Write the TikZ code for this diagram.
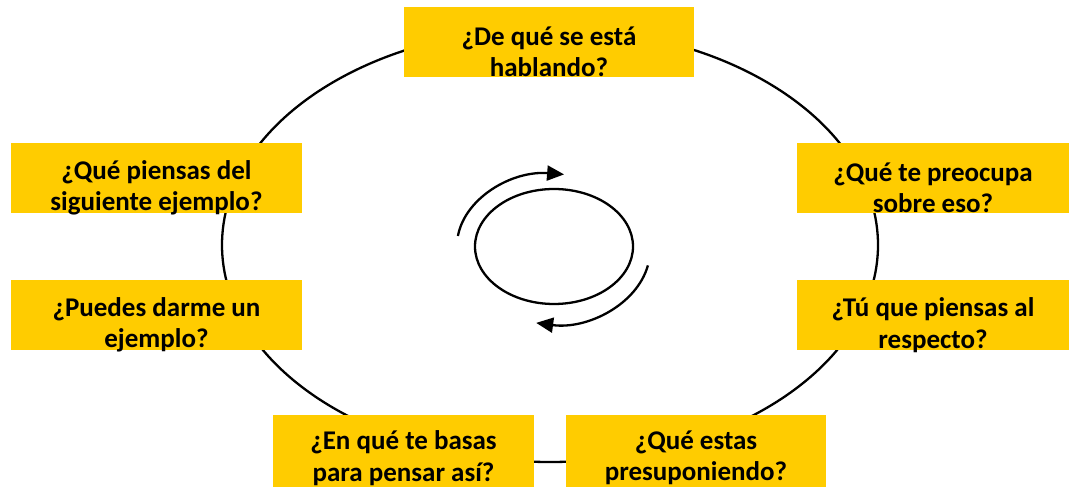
\documentclass[tikz,border=0pt]{standalone}
\usepackage{fontspec}
\setmainfont{Carlito}
\usetikzlibrary{arrows.meta,shapes.geometric}
\definecolor{boxyellow}{RGB}{255,204,0}
\tikzset{
  qbox/.style={rectangle, fill=boxyellow, draw=none, inner sep=0pt, minimum height=70pt},
  qtext/.style={align=center, inner sep=0pt, font=\bfseries\fontsize{27}{31.5}\selectfont, text=black},
  ring/.style={ellipse, draw=black, line width=2.3pt, inner sep=0pt},
  turn/.style={draw=black, line width=2.3pt, -{Triangle[length=17pt,width=15pt]}}
}
\begin{document}
\begin{tikzpicture}[x=1pt,y=1pt]
\useasboundingbox (0,0) rectangle (1072,488);
% big ellipse and small ellipse
\node[ring, minimum width=656pt, minimum height=434pt] (big) at (550,243) {};
\node[ring, minimum width=158pt, minimum height=115pt] (small) at (554,241.5) {};
% rotating arrows
\draw[turn] (457.9,252) arc[start angle=172, end angle=84, x radius=97, y radius=72];
\draw[turn] (647.9,222.6) arc[start angle=-12, end angle=-100, x radius=97, y radius=74];
% boxes
\node[qbox, minimum width=290pt] (top) at (549,446) {};
\node[qbox, minimum width=291pt] (lt) at (156.5,310) {};
\node[qbox, minimum width=291pt] (lb) at (156.5,173) {};
\node[qbox, minimum width=272pt] (rt) at (933,310) {};
\node[qbox, minimum width=272pt] (rb) at (933,173) {};
\node[qbox, minimum width=261pt, minimum height=72pt] (bl) at (403.5,37) {};
\node[qbox, minimum width=260pt, minimum height=72pt] (br) at (696,37) {};
% texts
\node[qtext] (toptxt) at ([yshift=-10pt]top.center) {¿De qué se está\\hablando?};
\node[qtext] (lttxt) at ([yshift=-10pt]lt.center) {¿Qué piensas del\\siguiente ejemplo?};
\node[qtext] (lbtxt) at ([yshift=-10pt]lb.center) {¿Puedes darme un\\ejemplo?};
\node[qtext] (rttxt) at ([yshift=-10pt]rt.center) {¿Qué te preocupa\\sobre eso?};
\node[qtext] (rbtxt) at ([yshift=-10pt]rb.center) {¿Tú que piensas al\\respecto?};
\node[qtext] (bltxt) at ([yshift=-7pt]bl.center) {¿En qué te basas\\para pensar así?};
\node[qtext] (brtxt) at ([yshift=-7pt]br.center) {¿Qué estas\\presuponiendo?};
\end{tikzpicture}
\end{document}
